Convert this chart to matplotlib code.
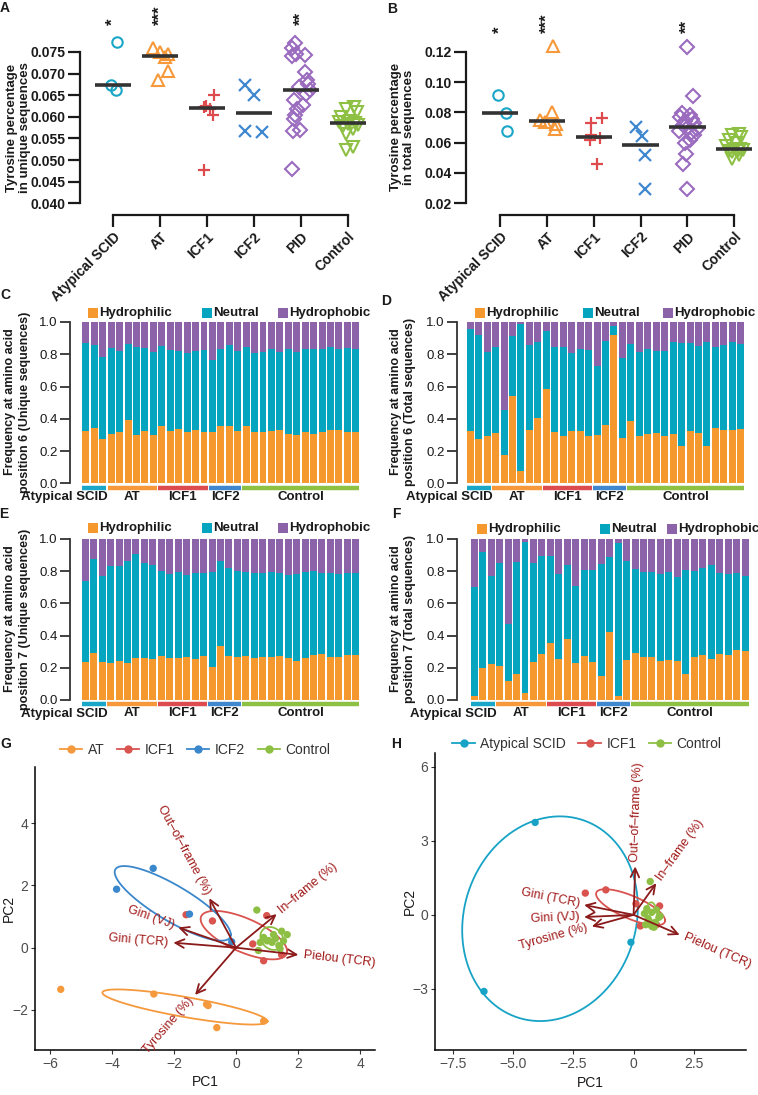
import numpy as np
import matplotlib
matplotlib.use("Agg")
import matplotlib.pyplot as plt
from matplotlib.patches import Rectangle
from matplotlib.lines import Line2D

plt.rcParams['font.family'] = ['Liberation Sans', 'DejaVu Sans']
plt.rcParams['axes.unicode_minus'] = True

W, H = 758, 1095
fig = plt.figure(figsize=(W / 100, H / 100), dpi=100)


def add_ax(x0, y0, x1, y1):
    return fig.add_axes([x0 / W, 1 - y1 / H, (x1 - x0) / W, (y1 - y0) / H])


def fxy(x, y):
    return (x / W, 1 - y / H)


# ------------------------------------------------------------------ data
strip_groups = ["Atypical SCID", "AT", "ICF1", "ICF2", "PID", "Control"]
strip_colors = ["#1AA6C7", "#F7993A", "#DE4B4E", "#3F88CF", "#9A6BBE", "#8DC043"]
strip_markers = ["o", "^", "+", "x", "D", "v"]
stars = {0: "*", 1: "***", 4: "**"}

# Panel A: tyrosine percentage in unique sequences
uniq_scid = [0.0773, 0.0673, 0.0663]
uniq_at = [0.0759, 0.0750, 0.0745, 0.0738, 0.0705, 0.0685]
uniq_icf1 = [0.0651, 0.0625, 0.0623, 0.0617, 0.0604, 0.0478]
uniq_icf2 = [0.0673, 0.0650, 0.0567, 0.0566]
uniq_pid = [0.0771, 0.0759, 0.0746, 0.0744, 0.0740, 0.0704, 0.0685, 0.0677, 0.0668,
            0.0662, 0.0652, 0.0638, 0.0627, 0.0619, 0.0604, 0.0596, 0.0569, 0.0567, 0.0479]
uniq_ctrl = [0.0622, 0.0619, 0.0612, 0.0600, 0.0590, 0.0587, 0.0586, 0.0584, 0.0582,
             0.0578, 0.0572, 0.0560, 0.0531, 0.0524]

# Panel B: tyrosine percentage in total sequences
tot_scid = [0.0914, 0.0793, 0.0676]
tot_at = [0.1240, 0.0804, 0.0752, 0.0735, 0.0726, 0.0693]
tot_icf1 = [0.0762, 0.0728, 0.0650, 0.0628, 0.0618, 0.0462]
tot_icf2 = [0.0700, 0.0643, 0.0521, 0.0297]
tot_pid = [0.1233, 0.0909, 0.0795, 0.0785, 0.0770, 0.0755, 0.0740, 0.0728, 0.0715,
           0.0700, 0.0690, 0.0680, 0.0665, 0.0650, 0.0620, 0.0600, 0.0524, 0.0462, 0.0297]
tot_ctrl = [0.0655, 0.0648, 0.0640, 0.0620, 0.0600, 0.0575, 0.0560, 0.0555, 0.0552,
            0.0548, 0.0545, 0.0540, 0.0520, 0.0495]

# horizontal jitter of the dots (style only)
jit_a = [[0.08, -0.03, 0.07],
         [-0.15, 0.01, 0.18, 0.10, 0.17, -0.04],
         [0.16, -0.01, -0.07, 0.07, 0.13, -0.07],
         [-0.19, 0.0, -0.19, 0.18],
         [-0.12, -0.2, -0.1, 0.08, -0.2, 0.08, 0.12, 0.15, -0.05, 0.2, 0.1, -0.15,
          0.05, -0.08, -0.12, -0.15, -0.02, -0.16, -0.18],
         [0.12, -0.05, 0.2, -0.15, 0.05, -0.2, 0.15, 0.0, 0.22, -0.1, 0.1, -0.05, 0.1, -0.05]]
jit_b = [[-0.05, 0.13, 0.14],
         [0.13, 0.11, -0.15, -0.05, 0.2, 0.17],
         [0.18, -0.06, -0.06, 0.14, -0.07, 0.06],
         [-0.1, 0.04, 0.1, 0.1],
         [0.0, 0.12, -0.12, 0.05, -0.15, 0.1, -0.05, 0.15, -0.1, 0.02, 0.2, -0.18,
          0.08, 0.14, 0.05, -0.05, -0.02, -0.1, 0.0],
         [0.1, -0.05, 0.15, -0.12, 0.05, -0.18, 0.12, 0.0, 0.2, -0.1, 0.08, -0.05, 0.1, -0.05]]

# Panels C-F: amino acid class fractions for 33 samples
bar_groups = ["Atypical SCID", "AT", "ICF1", "ICF2", "Control"]
bar_group_sizes = [3, 6, 6, 4, 14]
bar_group_colors = ["#1AA6C7", "#F7993A", "#DE4B4E", "#3F88CF", "#8DC043"]
class_names = ["Hydrophilic", "Neutral", "Hydrophobic"]
class_colors = ["#F5992F", "#06A5BF", "#8C62A8"]

c_hydrophilic = [0.322, 0.345, 0.273, 0.304, 0.316, 0.390, 0.297, 0.322, 0.297, 0.353, 0.322,
                 0.334, 0.318, 0.332, 0.320, 0.320, 0.355, 0.353, 0.322, 0.353, 0.318, 0.318,
                 0.324, 0.332, 0.308, 0.297, 0.318, 0.308, 0.318, 0.332, 0.328, 0.320, 0.318]
c_neutral = [0.547, 0.513, 0.508, 0.534, 0.504, 0.475, 0.551, 0.516, 0.520, 0.501, 0.505,
             0.489, 0.488, 0.491, 0.507, 0.445, 0.476, 0.503, 0.498, 0.495, 0.492, 0.499,
             0.507, 0.485, 0.523, 0.520, 0.515, 0.523, 0.515, 0.510, 0.503, 0.518, 0.513]

d_hydrophilic = [0.324, 0.273, 0.295, 0.310, 0.174, 0.539, 0.078, 0.332, 0.406, 0.585, 0.318,
                 0.291, 0.324, 0.322, 0.291, 0.297, 0.363, 0.917, 0.283, 0.384, 0.295, 0.308,
                 0.312, 0.293, 0.308, 0.230, 0.322, 0.312, 0.234, 0.345, 0.328, 0.332, 0.338]
d_neutral = [0.632, 0.648, 0.518, 0.534, 0.281, 0.376, 0.910, 0.526, 0.473, 0.361, 0.524,
             0.551, 0.486, 0.509, 0.536, 0.431, 0.522, 0.060, 0.496, 0.481, 0.522, 0.523,
             0.511, 0.530, 0.565, 0.639, 0.547, 0.540, 0.639, 0.503, 0.530, 0.543, 0.525]

e_hydrophilic = [0.234, 0.289, 0.238, 0.229, 0.240, 0.227, 0.263, 0.260, 0.256, 0.273, 0.263,
                 0.258, 0.265, 0.252, 0.273, 0.205, 0.335, 0.273, 0.269, 0.273, 0.263, 0.265,
                 0.265, 0.271, 0.258, 0.240, 0.258, 0.279, 0.285, 0.269, 0.269, 0.279, 0.279]
e_neutral = [0.504, 0.585, 0.533, 0.604, 0.593, 0.635, 0.642, 0.588, 0.581, 0.527, 0.518,
             0.536, 0.510, 0.534, 0.517, 0.591, 0.527, 0.548, 0.531, 0.523, 0.523, 0.521,
             0.531, 0.517, 0.517, 0.541, 0.536, 0.521, 0.505, 0.517, 0.512, 0.507, 0.507]

f_hydrophilic = [0.025, 0.200, 0.223, 0.213, 0.120, 0.159, 0.043, 0.234, 0.285, 0.351, 0.254,
                 0.376, 0.232, 0.273, 0.238, 0.151, 0.424, 0.025, 0.248, 0.289, 0.269, 0.265,
                 0.242, 0.248, 0.242, 0.161, 0.269, 0.277, 0.254, 0.285, 0.279, 0.310, 0.304]
f_neutral = [0.674, 0.720, 0.548, 0.635, 0.351, 0.699, 0.939, 0.618, 0.610, 0.544, 0.527,
             0.461, 0.477, 0.533, 0.568, 0.692, 0.461, 0.947, 0.614, 0.523, 0.527, 0.531,
             0.539, 0.548, 0.523, 0.645, 0.531, 0.540, 0.583, 0.501, 0.502, 0.476, 0.467]

# Panels G-H: PCA biplots
pca_vars = ["Out\u2013of\u2013frame (%)", "In\u2013frame (%)", "Gini (VJ)", "Gini (TCR)",
            "Pielou (TCR)", "Tyrosine (%)"]
g_groups = ["AT", "ICF1", "ICF2", "Control"]
g_colors = ["#F5993D", "#D9534F", "#3B87CC", "#8DBF44"]
g_at_pc1 = [-5.65, -2.65, -0.95, -0.90, -0.62, 0.89]
g_at_pc2 = [-1.34, -1.49, -1.82, -1.86, -2.57, -2.36]
g_icf1_pc1 = [-1.61, -0.76, 0.99, 0.54, 0.89, 1.47]
g_icf1_pc2 = [1.06, 0.86, 1.03, 0.12, -0.42, -0.23]
g_icf2_pc1 = [-2.67, -3.85, -1.50, -0.14]
g_icf2_pc2 = [2.55, 1.88, 1.08, 0.19]
g_ctrl_pc1 = [0.67, 0.89, 1.05, 1.21, 1.47, 1.65, 0.72, 1.38, 1.16, 1.00, 1.53, 1.27, 1.42, 0.78]
g_ctrl_pc2 = [1.21, 0.33, 0.23, 0.42, 0.53, 0.42, -0.09, 0.07, 0.17, 0.22, 0.22, 0.29, -0.03, 0.17]
g_load_pc1 = [-0.86, 1.31, -1.86, -2.02, 2.01, -1.32]
g_load_pc2 = [1.59, 1.08, 0.65, 0.16, -0.23, -1.52]

h_groups = ["Atypical SCID", "ICF1", "Control"]
h_colors = ["#17A3C6", "#D9534F", "#8DBF44"]
h_scid_pc1 = [-4.08, -6.20, -0.11]
h_scid_pc2 = [3.74, -3.10, -1.11]
h_icf1_pc1 = [-2.00, -1.15, 1.08, 0.10, 0.28, 0.95]
h_icf1_pc2 = [0.88, 1.01, 0.36, 0.45, -0.45, -0.40]
h_ctrl_pc1 = [0.69, 0.45, 0.60, 0.75, 0.90, 1.05, 0.50, 0.80, 0.95, 0.65, 1.10, 0.85, 0.55, 0.70]
h_ctrl_pc2 = [1.35, 0.05, -0.15, 0.10, -0.30, -0.10, -0.40, -0.45, 0.20, -0.25, -0.05, -0.50, 0.25, -0.35]
h_load_pc1 = [0.07, 0.94, -2.05, -2.05, 1.91, -1.73]
h_load_pc2 = [1.96, 1.28, -0.09, 0.40, -0.81, -0.47]

# ------------------------------------------------------------------ helpers
INK = "#1a1a1a"


def strip_panel(rect, series, jitters, ylim, ybounds, yticks, ytick_fmt, star_y, xlim, outward):
    ax = add_ax(*rect)
    for i, (vals, jit) in enumerate(zip(series, jitters)):
        xs = i + np.asarray(jit)
        mk, col = strip_markers[i], strip_colors[i]
        if mk in ("+", "x"):
            ax.plot(xs, vals, ls="none", marker=mk, ms=9, mew=1.6, color=col, zorder=3)
        else:
            ms = {"o": 7.5, "^": 8.5, "v": 8.5, "D": 6.8}[mk]
            ax.plot(xs, vals, ls="none", marker=mk, ms=ms, mew=1.5, mfc="none", mec=col, zorder=3)
        med = np.median(vals)
        ax.plot([i - 0.39, i + 0.39], [med, med], color="#333333", lw=2.6,
                solid_capstyle="butt", zorder=4)
    for i, s in stars.items():
        ax.text(i, star_y, s, rotation=90, ha="center", va="bottom", fontsize=12,
                fontweight="bold", color=INK)
    ax.set_xlim(*xlim)
    ax.set_ylim(*ylim)
    for sp in ["top", "right"]:
        ax.spines[sp].set_visible(False)
    for sp in ["left", "bottom"]:
        ax.spines[sp].set_linewidth(1.6)
        ax.spines[sp].set_color(INK)
    ax.spines["left"].set_bounds(*ybounds)
    ax.spines["bottom"].set_bounds(0, 5)
    ax.spines["bottom"].set_position(("outward", outward))
    ax.set_yticks(yticks)
    ax.set_yticklabels([ytick_fmt.format(v) for v in yticks], fontweight="bold", fontsize=10)
    ax.set_xticks(range(6))
    ax.set_xticklabels(strip_groups, rotation=45, ha="right", va="top",
                       rotation_mode="anchor", fontweight="bold", fontsize=10)
    ax.tick_params(axis="both", length=8.5, width=1.6, color=INK, pad=2, labelcolor=INK)
    ax.patch.set_alpha(0)
    return ax


def bar_panel(spine_x, bar_x0, bar_x1, y1px, y0px, hydro, neut, legend_x, legend_y,
              ylabel, ylabel_xy):
    nb = len(hydro)
    slot = (bar_x1 - bar_x0) / nb
    ax = add_ax(spine_x, y1px, bar_x1 + 2, y0px)
    x = np.arange(nb)
    hydro = np.asarray(hydro)
    neut = np.asarray(neut)
    phob = 1 - hydro - neut
    ax.bar(x, hydro, width=0.82, color=class_colors[0], linewidth=0)
    ax.bar(x, neut, bottom=hydro, width=0.82, color=class_colors[1], linewidth=0)
    ax.bar(x, phob, bottom=hydro + neut, width=0.82, color=class_colors[2], linewidth=0)
    ax.set_xlim(-0.5 - (bar_x0 - spine_x) / slot, nb - 0.5 + 2 / slot)
    ax.set_ylim(0, 1)
    for sp in ["top", "right", "bottom"]:
        ax.spines[sp].set_visible(False)
    ax.spines["left"].set_linewidth(1.3)
    ax.spines["left"].set_color("#333333")
    ax.set_xticks([])
    ax.set_yticks([0, 0.2, 0.4, 0.6, 0.8, 1.0])
    ax.set_yticklabels(["0.0", "0.2", "0.4", "0.6", "0.8", "1.0"], fontsize=9.5)
    ax.tick_params(axis="y", length=7, width=1.3, color="#333333", pad=2, labelcolor=INK)
    # group underline and names
    px_per_unit_y = (y0px - y1px)
    uy = -4.4 / px_per_unit_y
    ty = -13.5 / px_per_unit_y
    start = 0
    for gi, (gname, gsize, gcol) in enumerate(zip(bar_groups, bar_group_sizes, bar_group_colors)):
        s, e = start - 0.5, start + gsize - 0.5
        ax.plot([s + 0.06, e - 0.06], [uy, uy], color=gcol, lw=3.2, clip_on=False,
                solid_capstyle="butt")
        if gi == 0:
            ax.text(e + 0.1, ty, gname, ha="right", va="center", fontsize=9.5,
                    fontweight="bold", color=INK, clip_on=False)
        else:
            ax.text((s + e) / 2, ty, gname, ha="center", va="center", fontsize=9.5,
                    fontweight="bold", color=INK, clip_on=False)
        start += gsize
    # legend
    for lx, name, col in zip(legend_x, class_names, class_colors):
        fig.patches.append(Rectangle(fxy(lx, legend_y + 5), 10 / W, 10 / H,
                                     transform=fig.transFigure, color=col, lw=0))
        fig.text(*fxy(lx + 11, legend_y), name, ha="left", va="center", fontsize=9.5,
                 fontweight="bold", color=INK)
    fig.text(*fxy(*ylabel_xy), ylabel, rotation=90, ha="center", va="center",
             fontsize=9, fontweight="bold", color=INK, multialignment="center",
             linespacing=1.25)
    return ax


def biplot(rect, groups_xy, colors, load_x, load_y, xlim, ylim, xticks, xticklabels, yticks,
           xlabel_y, ylabel_x):
    ax = add_ax(*rect)
    ax.set_xlim(*xlim)
    ax.set_ylim(*ylim)
    ed = np.sqrt(-2 * np.log(1 - 0.5))
    theta = np.linspace(0, 2 * np.pi, 240)
    circle = np.column_stack([np.cos(theta), np.sin(theta)])
    arrow_col = "#8B1A1A"
    label_col = "#A11919"
    for (gx, gy), col in zip(groups_xy, colors):
        pts = np.column_stack([gx, gy])
        cov = np.cov(pts.T)
        R = np.linalg.cholesky(cov).T
        ell = circle @ R * ed + pts.mean(axis=0)
        ax.plot(ell[:, 0], ell[:, 1], color=col, lw=1.3, zorder=2)
        ax.scatter(gx, gy, s=28, color=col, edgecolors="none", zorder=3)
    for lab, lx, ly in zip(pca_vars, load_x, load_y):
        ax.annotate("", xy=(lx, ly), xytext=(0, 0),
                    arrowprops=dict(arrowstyle="->,head_length=0.45,head_width=0.22",
                                    color=arrow_col, lw=1.3, shrinkA=0, shrinkB=0,
                                    mutation_scale=14), zorder=4)
        p0 = ax.transData.transform((0, 0))
        p1 = ax.transData.transform((lx, ly))
        dx, dy = p1 - p0
        ang = np.degrees(np.arctan(dy / dx))
        n = np.hypot(dx, dy)
        off = 3.5
        ax.annotate(lab, xy=(lx, ly), xytext=(dx / n * off, dy / n * off),
                    textcoords="offset points", rotation=ang, rotation_mode="anchor",
                    ha="left" if lx > 0 else "right", va="center", color=label_col,
                    fontsize=9, zorder=5)
    for sp in ["top", "right"]:
        ax.spines[sp].set_visible(False)
    for sp in ["left", "bottom"]:
        ax.spines[sp].set_linewidth(1.1)
        ax.spines[sp].set_color("black")
    ax.set_xticks(xticks)
    ax.set_xticklabels(xticklabels)
    ax.set_yticks(yticks)
    ax.set_yticklabels([("\u2212" + str(abs(v))) if v < 0 else str(v) for v in yticks])
    ax.tick_params(axis="both", length=3, width=0.8, color="#333333", labelsize=10,
                   labelcolor="#4D4D4D", pad=2)
    ax.set_xlabel("PC1", fontsize=10, color=INK)
    ax.set_ylabel("PC2", fontsize=10, color=INK)
    x0, y0, x1, y1 = rect
    ax.xaxis.set_label_coords(0.5, -(xlabel_y - y1) / (y1 - y0))
    ax.yaxis.set_label_coords(-(x0 - ylabel_x) / (x1 - x0), 0.5)
    ax.xaxis.label.set_va("center")
    ax.yaxis.label.set_va("center")
    ax.patch.set_alpha(0)
    return ax


# ------------------------------------------------------------------ panel A
axA = strip_panel((80, 10, 370, 203.3),
                  [uniq_scid, uniq_at, uniq_icf1, uniq_icf2, uniq_pid, uniq_ctrl], jit_a,
                  (0.040, 0.0847), (0.040, 0.075),
                  [0.040, 0.045, 0.050, 0.055, 0.060, 0.065, 0.070, 0.075], "{:.3f}",
                  0.0812, (-0.70, 5.47), 8.6)
fig.text(*fxy(18.5, 128), "Tyrosine percentage\nin unique sequences", rotation=90,
         ha="center", va="center", fontsize=9.5, fontweight="bold", color=INK,
         multialignment="center", linespacing=1.2)

# ------------------------------------------------------------------ panel B
axB = strip_panel((466, 10, 758, 203.3),
                  [tot_scid, tot_at, tot_icf1, tot_icf2, tot_pid, tot_ctrl], jit_b,
                  (0.020, 0.1475), (0.020, 0.120),
                  [0.02, 0.04, 0.06, 0.08, 0.10, 0.12], "{:.2f}",
                  0.1323, (-0.73, 5.51), 8.4)
fig.text(*fxy(402.5, 127), "Tyrosine percentage\nin total sequences", rotation=90,
         ha="center", va="center", fontsize=9.5, fontweight="bold", color=INK,
         multialignment="center", linespacing=1.2)

# ------------------------------------------------------------------ panels C-F
bar_panel(70, 81.7, 360, 322, 483.3, c_hydrophilic, c_neutral, [88, 201.7, 278], 313,
          "Frequency at amino acid\nposition 6 (Unique sequences)", (17.5, 402))
bar_panel(457, 466, 745, 322, 483.3, d_hydrophilic, d_neutral, [475, 583, 663], 313,
          "Frequency at amino acid\nposition 6 (Total sequences)", (403, 402))
bar_panel(70, 81, 360, 538.8, 700, e_hydrophilic, e_neutral, [88, 201.7, 278], 528,
          "Frequency at amino acid\nposition 7 (Unique sequences)", (17.5, 619))
bar_panel(457, 470, 749.3, 538.8, 700, f_hydrophilic, f_neutral, [477, 600, 667], 529,
          "Frequency at amino acid\nposition 7 (Total sequences)", (403, 619))

# ------------------------------------------------------------------ panel G
biplot((35, 767, 375, 1050),
       [(g_at_pc1, g_at_pc2), (g_icf1_pc1, g_icf1_pc2), (g_icf2_pc1, g_icf2_pc2),
        (g_ctrl_pc1, g_ctrl_pc2)], g_colors, g_load_pc1, g_load_pc2,
       (-6.48, 4.48), (-3.29, 5.81), [-6, -4, -2, 0, 2, 4],
       ["\u22126", "\u22124", "\u22122", "0", "2", "4"], [-2, 0, 2, 4], 1082, 9)
handles = [Line2D([], [], color=c, marker="o", ms=5, lw=1.3) for c in g_colors]
fig.legend(handles, g_groups, loc="center", bbox_to_anchor=fxy(195, 750), ncol=4,
           frameon=False, fontsize=10, handlelength=1.6, handletextpad=0.4,
           columnspacing=0.9, labelcolor="#333333")

# ------------------------------------------------------------------ panel H
biplot((435, 753, 746, 1050),
       [(h_scid_pc1, h_scid_pc2), (h_icf1_pc1, h_icf1_pc2), (h_ctrl_pc1, h_ctrl_pc2)],
       h_colors, h_load_pc1, h_load_pc2,
       (-8.23, 4.66), (-5.47, 6.55), [-7.5, -5.0, -2.5, 0, 2.5],
       ["\u22127.5", "\u22125.0", "\u22122.5", "0", "2.5"], [-3, 0, 3, 6], 1083, 410)
handles = [Line2D([], [], color=c, marker="o", ms=5, lw=1.3) for c in h_colors]
fig.legend(handles, h_groups, loc="center", bbox_to_anchor=fxy(587, 744), ncol=3,
           frameon=False, fontsize=10, handlelength=1.6, handletextpad=0.4,
           columnspacing=0.9, labelcolor="#333333")

# ------------------------------------------------------------------ panel letters
for letter, (lx, ly) in {"A": (5, 8), "B": (392, 9), "C": (5, 295), "D": (386, 301),
                         "E": (4, 514), "F": (396, 514), "G": (6, 744),
                         "H": (396, 744)}.items():
    fig.text(*fxy(lx, ly), letter, ha="center", va="center", fontsize=10,
             fontweight="bold", color=INK)

fig.savefig("out.png", dpi=100, facecolor="white")
